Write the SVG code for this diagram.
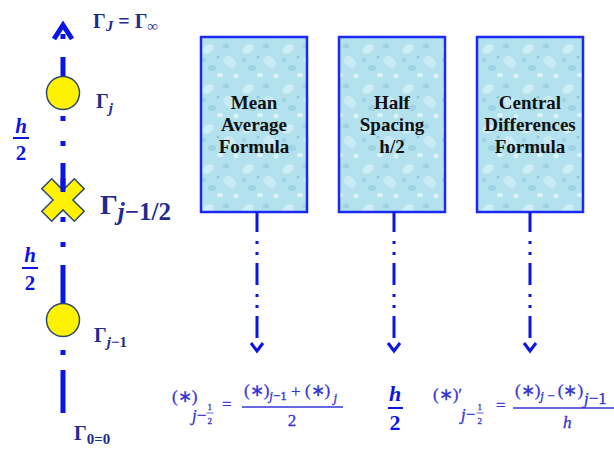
<svg xmlns="http://www.w3.org/2000/svg" width="614" height="449" viewBox="0 0 614 449">
<style>
.ax{stroke:#0a14e6;stroke-width:5;fill:none}
.cn{stroke:#0a14e6;stroke-width:3;fill:none}
.box{fill:url(#drops);stroke:#1a2af0;stroke-width:2.5}
.bt{font-family:"Liberation Serif","Times New Roman",Times,serif;font-weight:bold;font-size:19px;fill:#111;text-anchor:middle}
.g{font-family:"Liberation Serif","Times New Roman",Times,serif;fill:#1f2b8f;font-weight:bold}
.gi{font-style:italic}
.h{font-family:"Liberation Serif","Times New Roman",Times,serif;font-weight:bold;fill:#0a14e6;text-anchor:middle}
.f{font-family:"Liberation Serif","Times New Roman",Times,serif;fill:#3434d4;font-size:17px;stroke:#3434d4;stroke-width:0.3}
.fl{stroke:#3434d4;fill:none}
.node{fill:#fff200;stroke:#2a4a70;stroke-width:1.5}
</style>
<defs>
<pattern id="drops" width="40" height="40" patternUnits="userSpaceOnUse">
<rect width="40" height="40" fill="#b3e2ee"/>
<ellipse cx="8" cy="9" rx="6" ry="4" fill="#d6f2f8" opacity="0.8" transform="rotate(-30 8 9)"/>
<ellipse cx="26" cy="6" rx="3" ry="2.5" fill="#93cfe0" opacity="0.7"/>
<ellipse cx="30" cy="22" rx="7" ry="5" fill="#cdeef6" opacity="0.8" transform="rotate(40 30 22)"/>
<ellipse cx="12" cy="28" rx="4" ry="3" fill="#8fcadc" opacity="0.6"/>
<ellipse cx="20" cy="35" rx="3" ry="2" fill="#e0f6fb" opacity="0.9"/>
<circle cx="4" cy="20" r="2" fill="#9ad3e3"/>
<circle cx="36" cy="36" r="2.5" fill="#d9f3f9"/>
<circle cx="18" cy="17" r="1.5" fill="#8cc8da"/>
</pattern>
</defs>

<g id="axis">
<polyline class="ax" points="54,39 63,25 72,39" stroke-width="6" stroke-linejoin="miter"/>
<line class="ax" x1="63" y1="34" x2="63" y2="39"/>
<line class="ax" x1="63" y1="57" x2="63" y2="78"/>
<line class="ax" x1="63" y1="116" x2="63" y2="121"/>
<line class="ax" x1="63" y1="141" x2="63" y2="146"/>
<line class="ax" x1="63" y1="163" x2="63" y2="190"/>
<line class="ax" x1="63" y1="242" x2="63" y2="247"/>
<line class="ax" x1="63" y1="265" x2="63" y2="304"/>
<line class="ax" x1="63" y1="350" x2="63" y2="355"/>
<line class="ax" x1="63" y1="370" x2="63" y2="413"/>
</g>

<g id="node-gj">
<circle class="node" cx="63" cy="93" r="16.5"/>
</g>
<g id="node-gjhalf">
<path class="node" transform="translate(63,200) rotate(45)" d="M-7,-23 H7 V-7 H23 V7 H7 V23 H-7 V7 H-23 V-7 H-7 Z"/>
<line class="ax" x1="63" y1="178" x2="63" y2="192"/>
<line class="ax" x1="63" y1="217" x2="63" y2="222"/>
</g>
<g id="node-gj1">
<circle class="node" cx="63" cy="320" r="16.5"/>
</g>

<g id="labels-axis">
<text class="g" x="93" y="28" font-size="20">Γ<tspan class="gi" font-size="15" dy="3">J</tspan><tspan dy="-3"> = Γ</tspan><tspan font-size="15" dy="3">∞</tspan></text>
<text class="g" x="96" y="108" font-size="20">Γ<tspan class="gi" font-size="15" dy="5">j</tspan></text>
<text class="g" x="100" y="214" font-size="28">Γ<tspan class="gi" font-size="25" dy="6">j</tspan><tspan font-size="25">−1/2</tspan></text>
<text class="g" x="94" y="342" font-size="20">Γ<tspan class="gi" font-size="15" dy="5">j</tspan><tspan font-size="15">−1</tspan></text>
<text class="g" x="74" y="440" font-size="20">Γ<tspan font-size="15" dy="4">0=0</tspan></text>
</g>

<g id="h2-left1">
<text class="h" x="21" y="133" font-size="21" font-style="italic">h</text>
<line x1="13" y1="138" x2="29" y2="138" stroke="#0a14e6" stroke-width="2"/>
<text class="h" x="21" y="160" font-size="21">2</text>
</g>
<g id="h2-left2">
<text class="h" x="30" y="262" font-size="21" font-style="italic">h</text>
<line x1="22" y1="268" x2="38" y2="268" stroke="#0a14e6" stroke-width="2"/>
<text class="h" x="30" y="290" font-size="21">2</text>
</g>

<g id="box-mean">
<rect class="box" x="201" y="37" width="106" height="175"/>
<text class="bt" x="254" y="109">Mean</text>
<text class="bt" x="254" y="131">Average</text>
<text class="bt" x="254" y="153">Formula</text>
</g>
<g id="box-half">
<rect class="box" x="339" y="37" width="106" height="175"/>
<text class="bt" x="392" y="109">Half</text>
<text class="bt" x="392" y="131">Spacing</text>
<text class="bt" x="392" y="153">h/2</text>
</g>
<g id="box-central">
<rect class="box" x="477" y="37" width="106" height="175"/>
<text class="bt" x="530" y="109">Central</text>
<text class="bt" x="530" y="131">Differences</text>
<text class="bt" x="530" y="153">Formula</text>
</g>

<g id="connectors">
<g id="c1" transform="translate(257,0)">
<line class="cn" x1="0" y1="212" x2="0" y2="232"/>
<line class="cn" x1="0" y1="241" x2="0" y2="244"/>
<line class="cn" x1="0" y1="252" x2="0" y2="255"/>
<line class="cn" x1="0" y1="263" x2="0" y2="285"/>
<line class="cn" x1="0" y1="294" x2="0" y2="297"/>
<line class="cn" x1="0" y1="305" x2="0" y2="308"/>
<line class="cn" x1="0" y1="316" x2="0" y2="338"/>
<polyline class="cn" stroke-width="3.5" points="-6,343 0,351 6,343"/>
</g>
<g id="c2" transform="translate(394,0)">
<line class="cn" x1="0" y1="212" x2="0" y2="232"/>
<line class="cn" x1="0" y1="241" x2="0" y2="244"/>
<line class="cn" x1="0" y1="252" x2="0" y2="255"/>
<line class="cn" x1="0" y1="263" x2="0" y2="285"/>
<line class="cn" x1="0" y1="294" x2="0" y2="297"/>
<line class="cn" x1="0" y1="305" x2="0" y2="308"/>
<line class="cn" x1="0" y1="316" x2="0" y2="338"/>
<polyline class="cn" stroke-width="3.5" points="-6,343 0,351 6,343"/>
</g>
<g id="c3" transform="translate(530,0)">
<line class="cn" x1="0" y1="212" x2="0" y2="232"/>
<line class="cn" x1="0" y1="241" x2="0" y2="244"/>
<line class="cn" x1="0" y1="252" x2="0" y2="255"/>
<line class="cn" x1="0" y1="263" x2="0" y2="285"/>
<line class="cn" x1="0" y1="294" x2="0" y2="297"/>
<line class="cn" x1="0" y1="305" x2="0" y2="308"/>
<line class="cn" x1="0" y1="316" x2="0" y2="338"/>
<polyline class="cn" stroke-width="3.5" points="-6,343 0,351 6,343"/>
</g>
</g>

<g id="formula-mean">
<text class="f" x="172" y="402">(∗)</text>
<text class="f" font-size="13"><tspan class="gi" x="192" y="421">j</tspan><tspan>−</tspan><tspan font-size="9" x="207.5" y="410">1</tspan><tspan font-size="9" x="207.5" y="424">2</tspan></text>
<line class="fl" x1="206.5" y1="413" x2="213.5" y2="413" stroke-width="0.8"/>
<text class="f" x="222" y="410" font-size="20">=</text>
<line class="fl" x1="242" y1="407" x2="343" y2="407" stroke-width="1.3"/>
<text class="f" x="244" y="396">(∗)<tspan class="gi" font-size="13" dy="4">j</tspan><tspan font-size="13">−1</tspan><tspan dy="-3"> + </tspan><tspan dy="-1">(∗)</tspan><tspan class="gi" font-size="13" dy="6"> j</tspan></text>
<text class="f" x="292" y="426" text-anchor="middle">2</text>
</g>

<g id="formula-half">
<text class="h" x="395" y="401" font-size="22" font-style="italic">h</text>
<line x1="388" y1="408" x2="403" y2="408" stroke="#0a14e6" stroke-width="2"/>
<text class="h" x="395" y="430" font-size="22">2</text>
</g>

<g id="formula-central">
<text class="f" x="433" y="400">(∗)′</text>
<text class="f" font-size="13"><tspan class="gi" x="461" y="420">j</tspan><tspan>−</tspan><tspan font-size="9" x="477.5" y="410">1</tspan><tspan font-size="9" x="477.5" y="424">2</tspan></text>
<line class="fl" x1="476.5" y1="413" x2="483.5" y2="413" stroke-width="0.8"/>
<text class="f" x="496" y="411" font-size="20">=</text>
<line class="fl" x1="513" y1="408" x2="614" y2="408" stroke-width="1.3"/>
<text class="f" x="515" y="396">(∗)<tspan class="gi" font-size="13" dy="4">j</tspan><tspan font-size="13"> − </tspan><tspan dy="-4">(∗)</tspan></text>
<text class="f" x="584" y="404" font-size="13"><tspan class="gi">j</tspan>−1</text>
<text class="f gi" x="563" y="428">h</text>
</g>
</svg>
